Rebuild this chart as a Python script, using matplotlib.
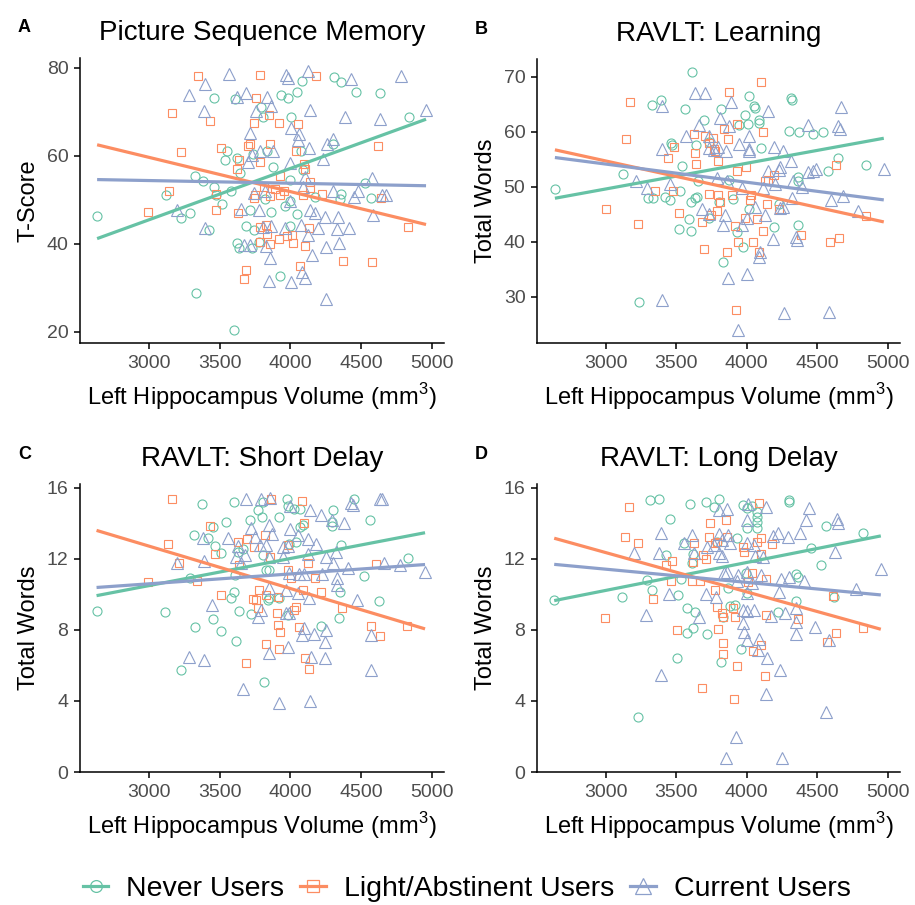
import numpy as np
import matplotlib.pyplot as plt
from matplotlib.lines import Line2D

plt.rcParams['font.family'] = ['Liberation Sans', 'DejaVu Sans']
plt.rcParams['mathtext.fontset'] = 'custom'
plt.rcParams['mathtext.rm'] = 'Liberation Sans'

groups = ['Never Users', 'Light/Abstinent Users', 'Current Users']
colors = ['#66C2A5', '#FC8D62', '#8DA0CB']
markers = ['o', 's', '^']
msizes = [6.5, 5.6, 8.0]
legend_msizes = [8.5, 8.5, 12.0]
xticks = [3000, 3500, 4000, 4500, 5000]

# (left hippocampus volume, score) per group
a_never = [(2634, 46.3), (3331, 28.9), (3601, 20.5), (3120, 51.0), (3225, 45.9), (3291, 47.0), (3425, 43.2),
           (3324, 55.3), (3385, 54.2), (3460, 73.2), (3606, 72.8), (3537, 59.0), (3554, 61.1), (3624, 59.5),
           (3643, 56.2), (3514, 49.1), (3584, 52.1), (3460, 52.9), (3472, 51.0), (3690, 44.0), (3713, 47.6),
           (3742, 43.1), (3777, 40.5), (3624, 40.1), (3638, 39.1), (3730, 39.1), (3793, 71.1), (3807, 68.8),
           (3836, 61.1), (3878, 57.4), (3824, 50.2), (3866, 47.2), (3934, 73.9), (3981, 73.2), (4051, 74.5),
           (4084, 76.9), (4007, 68.9), (4047, 46.8), (3995, 49.8), (3960, 48.7), (3997, 44.0), (3929, 32.7),
           (4075, 61.1), (4089, 56.8), (4000, 54.4), (4176, 50.6), (4310, 77.8), (4357, 76.8), (4462, 74.5),
           (4634, 74.3), (4300, 62.6), (4357, 51.4), (4352, 50.2), (4528, 53.8), (4570, 50.4), (4838, 68.9),
           (3737, 60.4)]
a_light = [(3347, 78.1), (3786, 78.3), (4185, 78.2), (3167, 69.7), (3434, 67.8), (3760, 73.1), (3852, 69.2),
           (3918, 67.5), (3744, 67.4), (4056, 67.3), (3225, 60.9), (3512, 61.7), (3702, 62.3), (3718, 62.6),
           (3859, 62.6), (4042, 61.1), (3634, 59.0), (3620, 57.0), (3784, 58.5), (4094, 58.1), (4105, 57.1),
           (4622, 62.2), (3141, 52.0), (2995, 47.2), (3474, 47.6), (3627, 47.0), (3472, 51.4), (3742, 50.5),
           (3753, 51.1), (3859, 50.8), (3925, 51.0), (3929, 55.3), (4141, 54.0), (4138, 52.6), (4089, 51.1),
           (4223, 51.4), (4638, 50.5), (3784, 43.8), (3831, 44.4), (3836, 42.3), (3789, 40.5), (3859, 39.9),
           (3918, 41.1), (3976, 41.8), (4012, 42.1), (4016, 40.1), (4105, 39.5), (4131, 43.5), (4833, 43.8),
           (4375, 36.2), (4580, 35.9), (4070, 35.0), (3690, 34.1), (3676, 32.1), (3812, 52.9), (3894, 52.5),
           (3953, 52.1)]
a_current = [(3568, 78.6), (3969, 78.4), (3981, 77.7), (4127, 79.3), (4432, 77.5), (4784, 78.1), (3397, 76.2),
             (3286, 73.7), (3688, 74.3), (3622, 73.3), (3836, 73.3), (3390, 70.2), (3758, 70.2), (3864, 71.3),
             (4141, 70.3), (4389, 68.8), (4636, 68.3), (4960, 70.5), (3718, 65.1), (4005, 66.2), (4061, 65.0),
             (4058, 63.5), (4305, 63.8), (4263, 62.6), (4131, 61.7), (3784, 61.2), (3875, 61.1), (3728, 60.2),
             (3702, 58.5), (3995, 58.3), (4230, 59.2), (4105, 55.1), (4575, 54.9), (3742, 51.5), (3824, 52.1),
             (4000, 49.8), (4089, 52.9), (4305, 51.9), (4479, 51.9), (4453, 50.6), (4650, 51.1), (4676, 51.1),
             (3202, 47.6), (3648, 48.0), (3777, 47.7), (4141, 47.6), (4176, 47.0), (4249, 46.2), (4338, 46.2),
             (4587, 46.5), (3397, 43.7), (3805, 43.8), (3866, 44.1), (3960, 43.5), (4077, 44.2), (4199, 43.5),
             (4328, 43.3), (4415, 43.6), (4124, 42.0), (3671, 39.7), (3713, 39.8), (3831, 39.5), (4253, 39.2),
             (4345, 40.2), (3859, 36.9), (4155, 37.4), (4084, 33.7), (4105, 32.3), (3847, 31.6), (4002, 31.3),
             (4256, 27.4)]

b_never = [(2640, 49.6), (3123, 52.3), (3236, 29.0), (3299, 47.9), (3335, 47.9), (3325, 64.8), (3389, 65.8),
           (3424, 48.1), (3464, 57.9), (3471, 57.6), (3459, 47.5), (3525, 49.3), (3542, 53.8), (3561, 64.1),
           (3608, 47.3), (3631, 47.9), (3643, 57.6), (3648, 48.2), (3653, 51.0), (3695, 62.2), (3589, 44.1),
           (3523, 42.4), (3608, 42.0), (3730, 44.3), (3613, 70.8), (3818, 64.1), (3829, 36.3), (3872, 51.3),
           (3902, 47.8), (3931, 41.7), (3942, 61.2), (3975, 39.0), (3989, 63.1), (4013, 66.5), (4008, 61.3),
           (4055, 64.7), (4060, 64.3), (4084, 62.2), (4088, 61.5), (4098, 57.0), (4013, 45.9), (4190, 42.6),
           (4232, 46.9), (4315, 66.1), (4319, 65.7), (4300, 60.2), (4374, 59.9), (4468, 59.5), (4541, 60.0),
           (4367, 51.7), (4362, 51.1), (4362, 43.0), (4579, 52.9), (4644, 55.3), (4845, 54.0), (3801, 47.3),
           (3730, 58.2)]
b_light = [(3172, 65.3), (3146, 58.7), (3000, 46.0), (3231, 43.2), (3349, 49.2), (3441, 55.2), (3483, 57.2),
           (3476, 49.3), (3518, 45.2), (3624, 59.6), (3636, 56.1), (3641, 54.1), (3683, 43.5), (3702, 59.2),
           (3730, 57.9), (3770, 56.8), (3759, 58.8), (3794, 54.7), (3777, 56.4), (3836, 60.5), (3865, 58.7),
           (3876, 67.2), (3933, 61.3), (3895, 48.5), (3796, 48.5), (3813, 47.2), (3789, 45.5), (3730, 48.7),
           (3747, 44.9), (3695, 38.7), (3860, 38.1), (3926, 27.6), (3919, 42.8), (3938, 39.9), (3933, 52.8),
           (3994, 53.5), (3990, 44.3), (4032, 48.5), (4048, 39.9), (4072, 44.2), (4084, 38.1), (4100, 69.0),
           (4112, 59.9), (4117, 41.9), (4147, 46.8), (4131, 51.1), (4192, 52.2), (4230, 45.9), (4385, 41.3),
           (4590, 39.9), (4652, 40.7), (4630, 54.0), (4849, 44.6), (4025, 47.6), (4154, 51.3)]
b_current = [(3631, 67.0), (3702, 67.0), (3401, 64.6), (3888, 65.3), (4154, 63.8), (4668, 64.4), (3660, 61.2),
             (3808, 62.5), (3872, 61.0), (4437, 61.2), (4649, 61.0), (4661, 60.4), (3570, 59.2), (3730, 59.3),
             (3730, 57.0), (3396, 56.8), (3766, 56.6), (3794, 57.3), (3855, 56.4), (3947, 57.8), (4013, 59.2),
             (4013, 56.4), (4018, 56.8), (4194, 57.2), (4260, 56.4), (4315, 54.6), (4154, 52.8), (4237, 53.5),
             (4230, 53.1), (4432, 52.7), (4491, 53.3), (4468, 52.8), (3212, 51.1), (3292, 49.8), (3457, 50.4),
             (3789, 51.6), (3860, 51.1), (3966, 49.8), (4114, 49.8), (4202, 50.4), (4326, 51.0), (4390, 49.9),
             (4595, 47.6), (4680, 48.3), (4791, 45.6), (4972, 53.2), (3683, 45.9), (3730, 45.0), (3832, 43.0),
             (3848, 44.9), (3966, 43.1), (4001, 44.3), (4060, 46.4), (4131, 44.9), (4183, 40.5), (4260, 46.4),
             (4237, 46.1), (4319, 47.9), (4348, 40.8), (4357, 40.3), (4096, 38.1), (4088, 37.2), (3865, 33.5),
             (4004, 34.1), (3401, 29.5), (4265, 27.0), (4581, 27.3), (3935, 23.9)]

c_never = [(2630, 9.08), (3115, 8.99), (3225, 5.76), (3326, 8.18), (3513, 7.94), (3618, 7.38), (3635, 9.08),
           (3583, 9.77), (3600, 10.10), (3454, 8.61), (3724, 8.89), (3817, 5.05), (3379, 15.09), (3600, 15.18),
           (3806, 15.18), (3771, 14.75), (3801, 14.34), (3712, 14.15), (3548, 14.06), (3454, 13.76), (3419, 13.18),
           (3319, 13.31), (3466, 12.72), (3513, 12.34), (3630, 12.38), (3665, 12.53), (3923, 14.34), (3974, 15.33),
           (3986, 14.99), (4028, 14.81), (4070, 14.81), (4068, 13.78), (4087, 13.87), (3993, 12.85), (4040, 12.94),
           (3806, 12.23), (3853, 11.39), (3829, 11.35), (3918, 9.81), (3853, 9.81), (3841, 9.68), (3981, 8.84),
           (4216, 8.22), (4302, 14.75), (4297, 14.06), (4293, 13.84), (4450, 15.33), (4562, 14.15), (4356, 12.79),
           (4829, 12.06), (4520, 11.00), (4625, 9.64), (4344, 8.69), (4349, 10.14), (3290, 10.89), (3607, 11.07)]
c_light = [(3162, 15.37), (3864, 15.37), (4082, 15.27), (3431, 13.84), (4094, 14.00), (3133, 12.81), (3215, 11.78),
           (3466, 12.29), (3630, 12.94), (3696, 13.09), (3742, 12.66), (3822, 13.35), (3860, 12.10), (3637, 11.63),
           (3981, 12.75), (3981, 11.39), (4005, 10.89), (4127, 11.73), (4609, 11.69), (4173, 10.93), (2991, 10.70),
           (3337, 10.74), (3508, 9.96), (3735, 9.71), (3759, 9.68), (3771, 9.21), (3778, 10.24), (3829, 9.96),
           (3911, 9.82), (4087, 10.24), (4216, 10.10), (3906, 8.97), (4028, 9.12), (4040, 9.30), (4368, 9.25),
           (3913, 8.28), (3927, 7.90), (4063, 8.13), (3829, 7.19), (3923, 6.91), (4101, 6.41), (4131, 5.79),
           (3684, 6.11), (4569, 8.24), (4632, 7.64), (4827, 8.24)]
c_current = [(3689, 15.37), (3794, 15.37), (3860, 15.40), (4000, 14.99), (4136, 14.75), (4216, 14.43), (4297, 14.15),
             (4379, 14.02), (4426, 15.14), (4445, 15.03), (4632, 15.33), (4649, 15.33), (3719, 13.72), (3848, 13.87),
             (3871, 13.41), (4000, 13.69), (4052, 13.31), (4122, 13.13), (4180, 12.85), (3384, 13.16), (3560, 13.18),
             (3630, 12.72), (3754, 13.22), (3787, 12.75), (3829, 12.75), (3951, 12.66), (3986, 12.72), (3618, 12.10),
             (3677, 12.19), (3852, 12.10), (3946, 12.10), (4122, 12.29), (4251, 12.10), (4326, 12.38), (3201, 11.73),
             (3391, 11.86), (3653, 11.73), (4304, 11.78), (4410, 11.48), (4660, 11.78), (4778, 11.67), (4953, 11.26),
             (3988, 11.17), (4059, 11.11), (4098, 11.11), (4227, 11.11), (4333, 10.93), (4333, 10.51), (3970, 10.24),
             (4052, 10.05), (3852, 10.33), (4134, 9.81), (4473, 9.68), (3447, 9.40), (3794, 9.12), (3771, 8.74),
             (3970, 8.97), (3993, 8.97), (4098, 8.09), (4080, 7.72), (4169, 7.75), (4255, 7.96), (4244, 7.34),
             (4574, 7.72), (3852, 6.69), (3986, 7.01), (4145, 6.45), (4246, 6.41), (3281, 6.45), (3391, 6.30),
             (4569, 5.72), (3665, 4.69), (3923, 3.89), (4141, 4.02)]

d_never = [(2635, 9.68), (3115, 9.86), (3227, 3.11), (3290, 10.80), (3325, 10.24), (3316, 15.31), (3379, 15.36),
           (3456, 14.22), (3426, 12.21), (3512, 9.96), (3531, 10.84), (3554, 12.87), (3601, 15.08), (3620, 12.27),
           (3613, 11.74), (3578, 7.80), (3620, 8.08), (3578, 9.21), (3632, 9.02), (3508, 6.39), (3718, 7.74),
           (3711, 15.16), (3765, 14.93), (3805, 15.36), (3816, 6.21), (3870, 10.33), (3882, 9.34), (3917, 9.40),
           (3929, 13.15), (3957, 6.90), (3975, 15.02), (3999, 14.84), (3999, 13.75), (3994, 11.18), (3999, 10.05),
           (4041, 14.97), (4074, 14.65), (4076, 14.37), (4076, 14.09), (4074, 13.75), (4221, 9.02), (4298, 15.31),
           (4303, 15.21), (4350, 11.14), (4361, 10.99), (4350, 9.64), (4455, 12.62), (4525, 11.65), (4560, 13.86),
           (4619, 9.86), (4824, 13.43), (3835, 8.74), (3788, 12.96)]
d_light = [(3164, 14.89), (3138, 13.24), (3227, 12.87), (2993, 8.68), (3339, 9.71), (3430, 11.65), (3472, 11.87),
           (3465, 10.75), (3508, 7.99), (3629, 12.87), (3620, 11.83), (3613, 10.75), (3671, 10.75), (3690, 12.21),
           (3713, 11.98), (3741, 14.03), (3734, 13.24), (3777, 12.87), (3788, 12.96), (3854, 14.18), (3863, 13.24),
           (3777, 10.24), (3788, 9.30), (3828, 8.93), (3830, 8.74), (3905, 9.25), (3917, 8.74), (3795, 8.05),
           (3830, 7.24), (3830, 6.64), (3683, 4.71), (3910, 4.11), (3929, 5.96), (3975, 12.68), (3982, 12.40),
           (4034, 11.18), (4010, 10.71), (4074, 12.96), (4099, 13.15), (4104, 12.25), (4134, 10.84), (4179, 12.81),
           (4085, 15.12), (4139, 8.83), (4366, 8.61), (4046, 6.83), (4104, 7.14), (4132, 5.40), (4614, 9.92),
           (4630, 7.84), (4572, 7.33), (4824, 8.12)]
d_current = [(3391, 13.43), (3613, 13.34), (3858, 14.80), (3800, 14.74), (4010, 15.06), (3999, 14.18), (4139, 14.89),
             (4443, 14.84), (4420, 14.18), (4642, 14.24), (4649, 13.99), (3199, 12.30), (3379, 12.30), (3800, 13.37),
             (3865, 13.34), (3823, 13.05), (3882, 12.87), (3554, 12.87), (3625, 12.30), (3765, 12.77), (3807, 12.30),
             (3823, 12.15), (3999, 12.87), (4050, 12.77), (4116, 12.12), (4057, 12.15), (4186, 13.28), (4221, 13.43),
             (4291, 13.24), (4380, 13.43), (4626, 12.40), (3718, 12.68), (3840, 11.18), (3858, 11.27), (3940, 11.08),
             (3999, 11.27), (3929, 10.75), (4034, 10.62), (4104, 11.08), (4244, 10.84), (4303, 10.99), (4408, 10.75),
             (4775, 10.30), (4951, 11.42), (3449, 10.00), (3711, 10.02), (3784, 9.87), (3999, 10.05), (4228, 10.11),
             (4053, 9.11), (3999, 9.06), (3975, 9.11), (4174, 8.80), (4268, 8.93), (4350, 9.21), (3285, 8.83),
             (3664, 8.74), (3971, 8.36), (3980, 7.89), (3999, 7.43), (4088, 7.46), (4346, 8.46), (4351, 7.74),
             (4484, 8.18), (4587, 7.43), (4081, 6.86), (4146, 6.39), (4237, 5.74), (4139, 4.39), (4560, 3.39),
             (3391, 5.46), (3922, 1.98), (3851, 0.80), (4249, 0.80)]

# fitted line values at the lowest and highest volume of each panel (never, light, current)
a_fit = [(41.2, 68.3), (62.5, 44.4), (54.6, 53.2)]
b_fit = [(47.9, 58.8), (56.7, 43.6), (55.3, 47.6)]
c_fit = [(9.92, 13.46), (13.59, 8.05), (10.38, 11.67)]
d_fit = [(9.64, 13.28), (13.15, 8.03), (11.68, 9.96)]

W, H = 915, 905
panels = [
    ('A', 'Picture Sequence Memory', 'T-Score', [a_never, a_light, a_current], a_fit,
     [20, 40, 60, 80], (17.5, 82.2), (80, 58, 444, 343)),
    ('B', 'RAVLT: Learning', 'Total Words', [b_never, b_light, b_current], b_fit,
     [30, 40, 50, 60, 70], (21.6, 73.2), (537, 59, 900, 343)),
    ('C', 'RAVLT: Short Delay', 'Total Words', [c_never, c_light, c_current], c_fit,
     [0, 4, 8, 12, 16], (0, 16.2), (80, 484, 444, 772)),
    ('D', 'RAVLT: Long Delay', 'Total Words', [d_never, d_light, d_current], d_fit,
     [0, 4, 8, 12, 16], (0, 16.2), (537, 484, 900, 772)),
]

fig = plt.figure(figsize=(W / 100, H / 100), dpi=100)

for letter, title, ylabel, pts, fit, yticks, ylim, box in panels:
    l, t, r, b = box
    ax = fig.add_axes([l / W, 1 - b / H, (r - l) / W, (b - t) / H])
    allx = np.concatenate([np.array(p)[:, 0] for p in pts])
    xr = [allx.min(), allx.max()]
    for g in range(3):
        arr = np.array(pts[g])
        ax.plot(arr[:, 0], arr[:, 1], linestyle='none', marker=markers[g], ms=msizes[g],
                mfc='none', mec=colors[g], mew=0.8, zorder=2, clip_on=False)
    for g in range(3):
        ax.plot(xr, fit[g], color=colors[g], lw=2.3, zorder=3, solid_capstyle='butt')
    ax.set_xlim(2513, 5087)
    ax.set_ylim(*ylim)
    ax.set_xticks(xticks)
    ax.set_yticks(yticks)
    for s in ['top', 'right']:
        ax.spines[s].set_visible(False)
    for s in ['left', 'bottom']:
        ax.spines[s].set_linewidth(1.1)
    ax.tick_params(length=4.3, width=1.1, labelsize=14, labelcolor='#4D4D4D', pad=4)
    ax.set_title(title, fontsize=20, pad=13)
    ax.set_ylabel(ylabel, fontsize=17, labelpad=5)
    ax.set_xlabel(r'Left Hippocampus Volume (mm$^{3}$)', fontsize=17, labelpad=7)
    fig.text((l - 62) / W, 1 - (t - 30) / H, letter, fontsize=13, fontweight='bold',
             ha='left', va='center')

handles = [Line2D([0], [0], color=colors[g], lw=2.3, marker=markers[g], ms=legend_msizes[g],
                  mfc='none', mec=colors[g], mew=0.9) for g in range(3)]
fig.legend(handles, groups, loc='center', bbox_to_anchor=(0.51, 1 - 889 / H), ncol=3,
           frameon=False, fontsize=20.5, handlelength=0.9, handletextpad=0.63, columnspacing=0.56)

fig.savefig('out.png', dpi=100)
